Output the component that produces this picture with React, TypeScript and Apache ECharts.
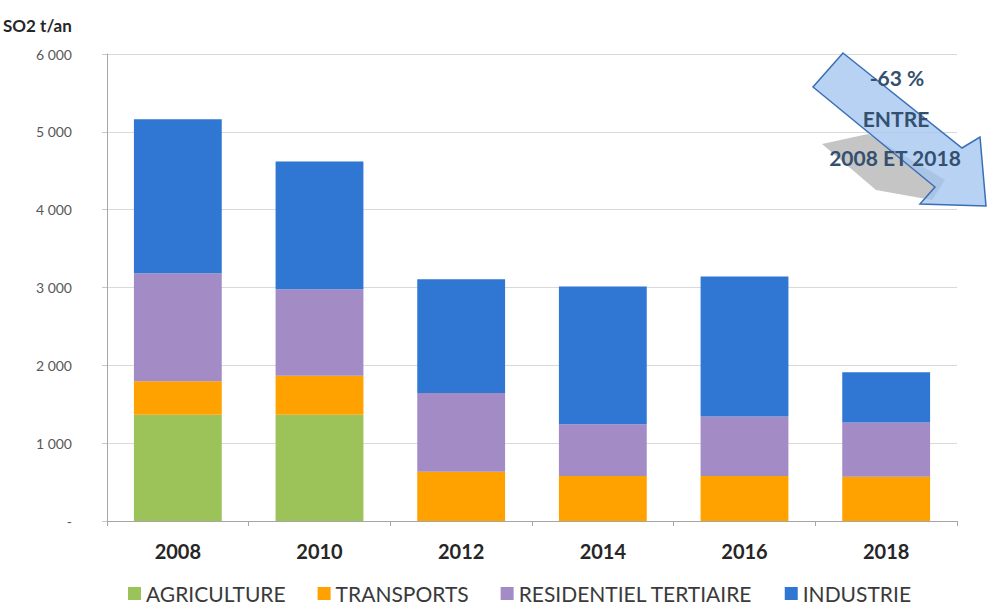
import React, { useEffect, useRef } from "react";
import * as echarts from "echarts";

const years = ["2008", "2010", "2012", "2014", "2016", "2018"];
const agriculture = [1364, 1364, 0, 0, 0, 0];
const transports = [430, 503, 632, 577, 577, 570];
const residentiel = [1389, 1110, 1012, 667, 765, 695];
const industrie = [1978, 1642, 1462, 1768, 1799, 645];
const seriesNames = ["AGRICULTURE", "TRANSPORTS", "RESIDENTIEL TERTIAIRE", "INDUSTRIE"];
const colors = ["#9cc25a", "#ffa200", "#a38bc6", "#2f77d2"];
const yTicks = [0, 1000, 2000, 3000, 4000, 5000, 6000];

export default function App() {
  const ref = useRef<HTMLDivElement>(null);
  useEffect(() => {
    if (!ref.current) return;
    const chart = echarts.init(ref.current, null, { renderer: "svg" });
    const dataSets = [agriculture, transports, residentiel, industrie];
    const font = "Lato, 'Open Sans', sans-serif";
    const noteStyle = {
      fontSize: 21,
      fontWeight: "bold",
      fill: "#34506f",
      align: "center",
      verticalAlign: "middle",
      fontFamily: font,
    };
    chart.setOption({
      animation: false,
      textStyle: { fontFamily: font },
      grid: { left: 107, right: 30, top: 54, bottom: 87, containLabel: false },
      legend: {
        left: 128,
        top: 583,
        padding: 0,
        itemWidth: 13,
        itemHeight: 13,
        itemGap: 32,
        icon: "rect",
        textStyle: { fontSize: 21, lineHeight: 21, color: "#3a3a3a", fontFamily: font },
        data: seriesNames,
      },
      xAxis: {
        type: "category",
        data: years,
        axisLine: { show: true, lineStyle: { color: "#a6a6a6" } },
        axisTick: { show: true, length: 5, lineStyle: { color: "#a6a6a6" } },
        axisLabel: { fontSize: 20, fontWeight: "bold", color: "#262626", margin: 20 },
      },
      yAxis: {
        type: "value",
        min: yTicks[0],
        max: yTicks[yTicks.length - 1],
        interval: 1000,
        axisLine: { show: true, lineStyle: { color: "#a6a6a6" } },
        axisTick: { show: true, length: 5, lineStyle: { color: "#c8c8c8" } },
        splitLine: { show: true, lineStyle: { color: "#d9d9d9" } },
        axisLabel: {
          fontSize: 14,
          color: "#595959",
          margin: 35,
          formatter: (v: number) =>
            v === 0 ? "-" : String(v).replace(/\B(?=(\d{3})+(?!\d))/g, " "),
        },
      },
      series: seriesNames.map((name, i) => ({
        name,
        type: "bar",
        stack: "total",
        barWidth: "62%",
        itemStyle: { color: colors[i] },
        data: dataSets[i],
      })),
      graphic: [
        {
          type: "polygon",
          shape: {
            points: [
              [822, 144],
              [868, 134],
              [945, 180],
              [932, 200],
              [876, 190],
            ],
          },
          style: { fill: "rgba(150,150,150,0.55)" },
          z: 10,
        },
        {
          type: "polygon",
          shape: {
            points: [
              [843, 53],
              [962, 148],
              [980, 137],
              [986, 206],
              [920, 204],
              [935, 187],
              [813, 87],
            ],
          },
          style: { fill: "rgba(160,195,240,0.75)", stroke: "#3a6fb5", lineWidth: 1.5 },
          z: 11,
        },
        { type: "text", x: 897, y: 77, style: { ...noteStyle, text: "-63 %" }, z: 12 },
        { type: "text", x: 896, y: 118, style: { ...noteStyle, text: "ENTRE" }, z: 12 },
        { type: "text", x: 895, y: 157, style: { ...noteStyle, text: "2008 ET 2018" }, z: 12 },
        {
          type: "text",
          x: 3,
          y: 25,
          style: { text: "SO2 t/an", fontSize: 17, fontWeight: "bold", fill: "#262626", verticalAlign: "middle", fontFamily: font },
        },
      ],
    });
    return () => chart.dispose();
  }, []);
  return (
    <div
      ref={ref}
      style={{ position: "fixed", left: 0, top: 0, width: 987, height: 608, background: "#fff" }}
    />
  );
}
